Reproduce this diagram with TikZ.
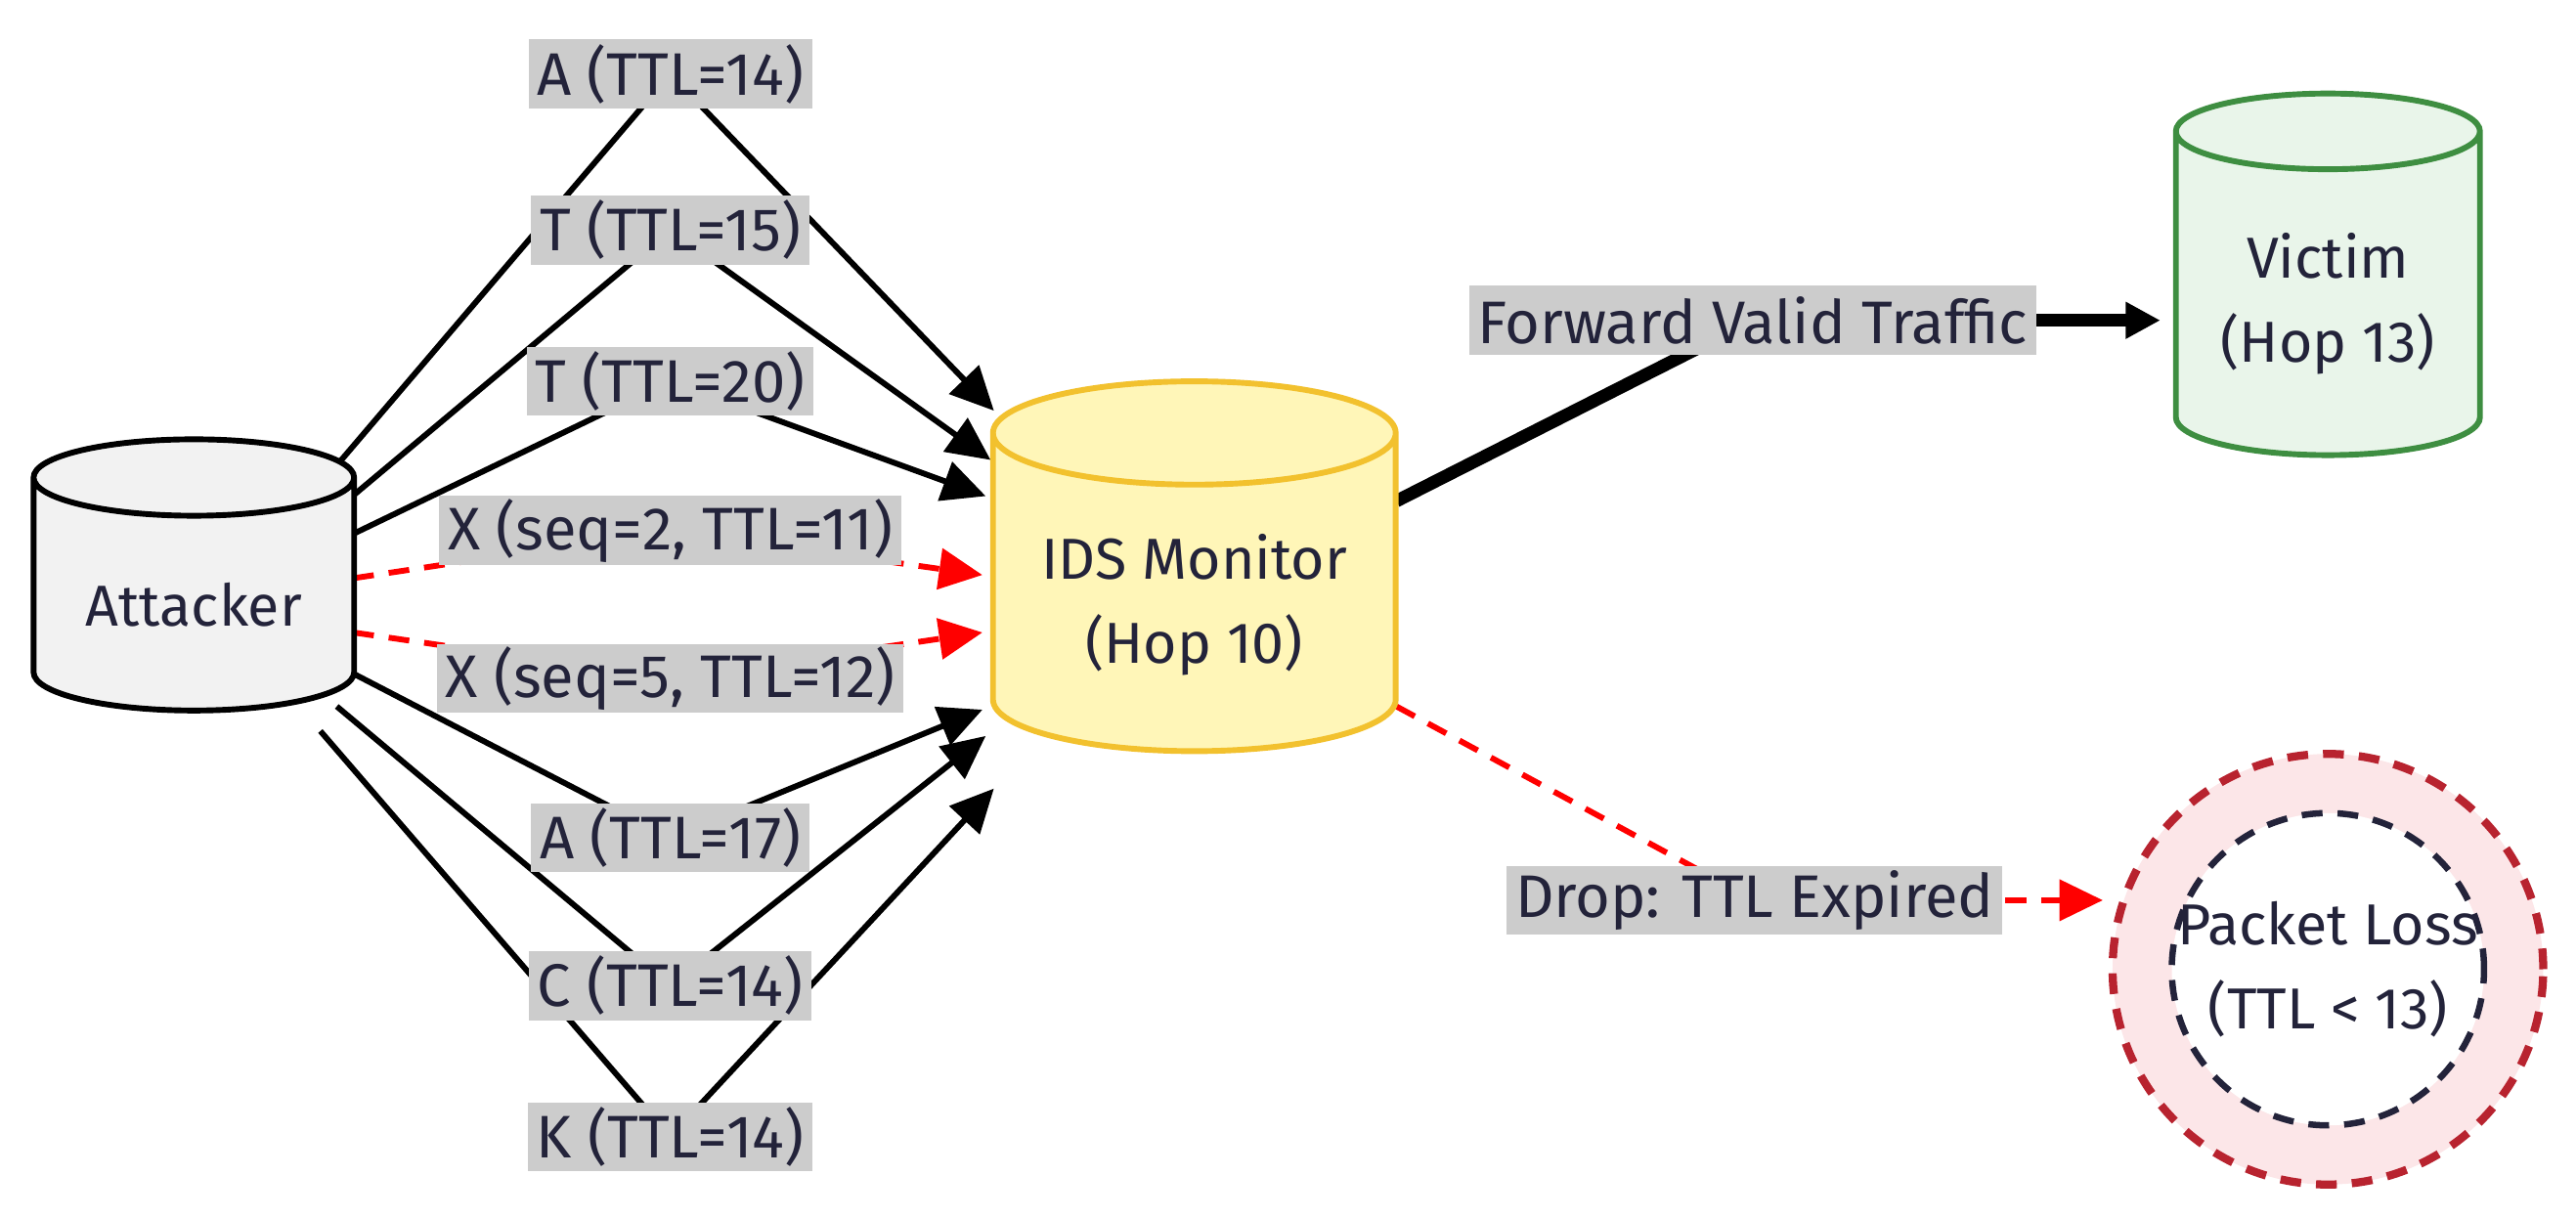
\documentclass[tikz,border=0pt]{standalone}
\usepackage{fontspec}
\setmainfont{Fira Sans}
\usetikzlibrary{shapes.geometric,arrows.meta,backgrounds}
\definecolor{tagfill}{HTML}{CCCCCC}
\definecolor{idsfill}{HTML}{FFF6B8}
\definecolor{idsline}{HTML}{F2C12E}
\definecolor{vicfill}{HTML}{E9F5EA}
\definecolor{vicline}{HTML}{3E8E41}
\definecolor{lossfill}{HTML}{FCE6E8}
\definecolor{lossline}{HTML}{B8232F}
\definecolor{inkline}{HTML}{23233A}
\tikzset{
  host/.style={cylinder, shape border rotate=90, draw, line width=1pt,
    aspect=0.3, align=center, font=\fontsize{10}{14.5}\selectfont, text=inkline},
  tag/.style={fill=tagfill, inner xsep=1.5pt, inner ysep=0pt, minimum height=0.42cm,
    font=\fontsize{10.4}{12}\selectfont, text=inkline},
  wire/.style={line width=1pt},
  pkt/.style={wire, -{Triangle[length=7.5pt,width=7pt]}},
  badwire/.style={wire, red, dash pattern=on 3.6pt off 2.6pt},
  bad/.style={pkt, red, dash pattern=on 3.6pt off 2.6pt}
}
\begin{document}
\begin{tikzpicture}[x=0.01cm, y=-0.01cm]
\useasboundingbox (0,0) rectangle (1568,742);

% hosts
\node[host, fill=gray!10, minimum width=1.95cm, minimum height=1.65cm] (att) at (118,368) {Attacker};
\node[host, draw=idsline, fill=idsfill, minimum width=2.45cm, minimum height=2.25cm] (ids) at (727,368) {IDS Monitor\\(Hop 10)};
\node[host, draw=vicline, fill=vicfill, minimum width=1.85cm, minimum height=2.2cm] (vic) at (1417,185) {Victim\\(Hop 13)};
\node[circle, draw=lossline, fill=lossfill, line width=1.4pt, dash pattern=on 3.6pt off 2.6pt, minimum size=2.62cm] (loss) at (1417,590) {};
\node[circle, draw=inkline, fill=white, line width=1.1pt, dash pattern=on 3.6pt off 2.6pt, inner sep=0pt, minimum size=1.9cm] (lossin) at (1417,590) {};
\node[align=center, font=\fontsize{10}{14.5}\selectfont, text=inkline] (losstxt) at (lossin) {Packet Loss\\(TTL < 13)};
\coordinate (vicin) at (1315,195);
\coordinate (lossat) at (1280,548);

% packet tags
\node[tag] (a1) at (408,45) {A (TTL=14)};
\node[tag] (t1) at (408,140) {T (TTL=15)};
\node[tag] (t2) at (408,232) {T (TTL=20)};
\node[tag] (x1) at (408,323) {X (seq=2, TTL=11)};
\node[tag] (x2) at (408,413) {X (seq=5, TTL=12)};
\node[tag] (a2) at (408,510) {A (TTL=17)};
\node[tag] (c1) at (408,600) {C (TTL=14)};
\node[tag] (k1) at (408,692) {K (TTL=14)};
\node[tag] (fwd) at (1067,195) {Forward Valid Traffic};
\node[tag] (drop) at (1068,548) {Drop: TTL Expired};

\begin{scope}[on background layer]
\draw[wire] (195,295) -- (a1.center); \draw[pkt] (a1.center) -- (605,250);
\draw[wire] (205,310) -- (t1.center); \draw[pkt] (t1.center) -- (603,280);
\draw[wire] (215,325) -- (t2.center); \draw[pkt] (t2.center) -- (600,302);
\draw[badwire] (215,352) -- (x1.center); \draw[bad] (x1.center) -- (598,350);
\draw[badwire] (215,385) -- (x2.center); \draw[bad] (x2.center) -- (598,385);
\draw[wire] (215,410) -- (a2.center); \draw[pkt] (a2.center) -- (598,432);
\draw[wire] (205,430) -- (c1.center); \draw[pkt] (c1.center) -- (600,448);
\draw[wire] (195,445) -- (k1.center); \draw[pkt] (k1.center) -- (605,480);
\draw[line width=2.2pt] (850,305) -- (fwd.center);
\draw[line width=2.2pt, -{Triangle[length=6pt,width=6pt]}] (fwd.center) -- (vicin);
\draw[badwire] (850,430) -- (drop.center);
\draw[bad] (drop.center) -- (lossat);
\end{scope}
\end{tikzpicture}
\end{document}
